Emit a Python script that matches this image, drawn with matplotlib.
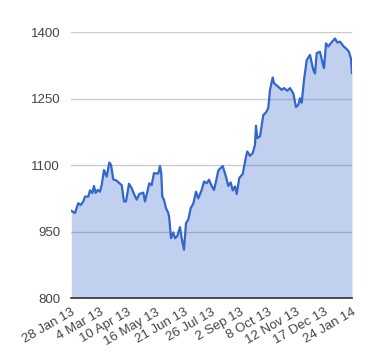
import matplotlib
matplotlib.use("Agg")
import matplotlib.pyplot as plt

tick_labels = ["28 Jan 13", "4 Mar 13", "10 Apr 13", "16 May 13", "21 Jun 13",
               "26 Jul 13", "2 Sep 13", "8 Oct 13", "12 Nov 13", "17 Dec 13", "24 Jan 14"]

# position along the axis, in units of tick intervals
pos = [0.0, 0.132, 0.249, 0.335, 0.428, 0.488, 0.606, 0.666, 0.748, 0.809, 0.869, 0.941,
       1.022, 1.083, 1.165, 1.261, 1.354, 1.414, 1.496, 1.617, 1.735, 1.796, 1.877, 1.949,
       2.056, 2.152, 2.234, 2.330, 2.423, 2.565, 2.626, 2.708, 2.779, 2.864, 2.946,
       3.099, 3.160, 3.206, 3.242, 3.302, 3.374, 3.456, 3.491, 3.552, 3.634, 3.694, 3.776,
       3.872, 3.933, 4.015, 4.086, 4.168, 4.254, 4.346, 4.443, 4.524, 4.645, 4.728, 4.824,
       4.906, 5.002, 5.084, 5.155, 5.237, 5.394, 5.511, 5.593, 5.679, 5.750, 5.832, 5.893,
       5.985, 6.106, 6.224, 6.270, 6.366, 6.462, 6.544, 6.580, 6.626, 6.723, 6.840, 6.936,
       7.018, 7.079, 7.175, 7.221, 7.374, 7.496, 7.578, 7.695, 7.791, 7.909, 8.005, 8.087,
       8.148, 8.208, 8.290, 8.386, 8.504, 8.621, 8.682, 8.743, 8.860, 8.956, 9.003, 9.074,
       9.156, 9.241, 9.394, 9.476, 9.573, 9.690, 9.811, 9.893, 9.964, 10.0]

values = [997, 992, 1014, 1010, 1018, 1029, 1029, 1043, 1037, 1053, 1037, 1044,
          1040, 1055, 1089, 1074, 1106, 1101, 1068, 1065, 1058, 1055, 1018, 1018,
          1058, 1048, 1035, 1022, 1035, 1038, 1018, 1040, 1059, 1055, 1082,
          1081, 1098, 1082, 1029, 1022, 1003, 992, 980, 935, 948, 935, 940,
          960, 935, 909, 969, 977, 1003, 1013, 1040, 1025, 1044, 1063, 1059,
          1067, 1053, 1044, 1063, 1088, 1098, 1074, 1053, 1061, 1043, 1052, 1035,
          1071, 1080, 1119, 1131, 1121, 1127, 1146, 1189, 1161, 1165, 1213, 1219,
          1229, 1270, 1298, 1285, 1277, 1270, 1274, 1268, 1274, 1262, 1231, 1236,
          1251, 1241, 1292, 1337, 1349, 1315, 1307, 1353, 1356, 1330, 1319, 1375,
          1368, 1375, 1386, 1377, 1379, 1369, 1362, 1356, 1340, 1308]

y_ticks = [800, 950, 1100, 1250, 1400]

plt.rcParams['font.family'] = ['Liberation Sans', 'DejaVu Sans']

fig = plt.figure(figsize=(3.8, 3.6), dpi=100)
ax = fig.add_axes([0.1876, 0.1722, 0.9263 - 0.1876, 0.9103 - 0.1722])

line_color = "#3366cc"
ax.fill_between(pos, values, 800, color=line_color, alpha=0.3, linewidth=0, zorder=2)
ax.plot(pos, values, color=line_color, linewidth=1.6, zorder=3)

ax.set_xlim(0, 10)
ax.set_ylim(800, 1400)
ax.set_yticks(y_ticks)
ax.set_yticklabels([str(v) for v in y_ticks])
ax.set_xticks(range(len(tick_labels)))
ax.set_xticklabels(tick_labels, rotation=30, ha="right", rotation_mode="anchor")

ax.grid(axis="y", color="#cccccc", linewidth=1, zorder=0)
ax.grid(axis="x", visible=False)
ax.set_axisbelow(True)
for s in ["top", "right", "left"]:
    ax.spines[s].set_visible(False)
ax.spines["bottom"].set_color("#333333")
ax.spines["bottom"].set_linewidth(1.2)
ax.spines["bottom"].set_zorder(4)
ax.tick_params(axis="both", length=0, labelsize=9.5, labelcolor="#444444")
ax.tick_params(axis="y", pad=8)
ax.tick_params(axis="x", pad=6)

fig.savefig("out.png", dpi=100)
